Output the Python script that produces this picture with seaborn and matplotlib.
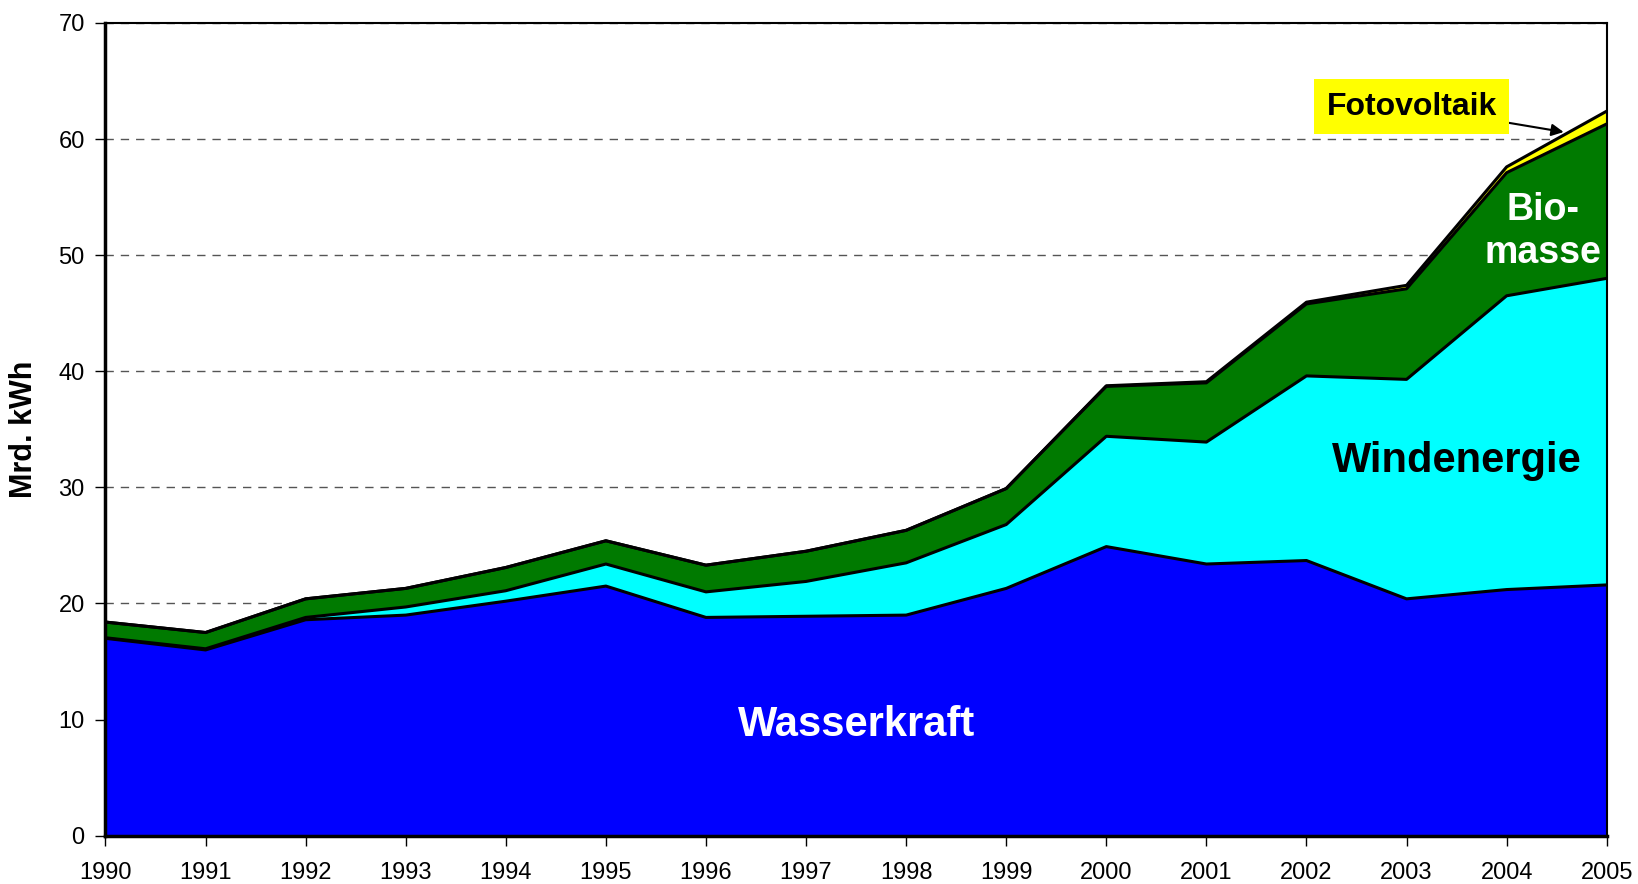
import numpy as np
import pandas as pd
import matplotlib
matplotlib.use("Agg")
import matplotlib.pyplot as plt
import seaborn as sns

# values (Mrd. kWh)
years = list(range(1990, 2006))
wasserkraft = [17.0, 16.0, 18.6, 19.0, 20.2, 21.5, 18.8, 18.9, 19.0, 21.3, 24.9, 23.4, 23.7, 20.4, 21.2, 21.6]
windenergie = [0.05, 0.1, 0.2, 0.7, 0.9, 1.9, 2.2, 3.0, 4.5, 5.5, 9.5, 10.5, 15.9, 18.9, 25.3, 26.4]
biomasse = [1.35, 1.4, 1.6, 1.6, 2.0, 2.0, 2.3, 2.6, 2.8, 3.1, 4.3, 5.1, 6.2, 7.8, 10.6, 13.3]
fotovoltaik = [0, 0, 0, 0, 0, 0, 0, 0, 0, 0, 0.05, 0.1, 0.15, 0.3, 0.5, 1.1]

sources = ["Wasserkraft", "Windenergie", "Biomasse", "Fotovoltaik"]
colors = ["#0000FF", "#00FFFF", "#007A00", "#FFFF00"]

df = pd.DataFrame({"year": years, "Wasserkraft": wasserkraft, "Windenergie": windenergie,
                   "Biomasse": biomasse, "Fotovoltaik": fotovoltaik})
cum = df[sources].cumsum(axis=1)
cum["year"] = df["year"]
long = cum.melt(id_vars="year", var_name="source", value_name="top")

sns.set_theme(style="white")
plt.rcParams["font.family"] = ["Liberation Sans", "DejaVu Sans"]

fig = plt.figure(figsize=(16.38, 8.84), dpi=100)
ax = fig.add_axes([0.0644, 0.0546, 0.9165, 0.9195])

ax.stackplot(df["year"], *[df[s] for s in sources], colors=colors, zorder=2, linewidth=0)
sns.lineplot(data=long, x="year", y="top", units="source", estimator=None,
             color="black", linewidth=2.2, ax=ax, zorder=3, legend=False)

ax.set_xlim(1990, 2005)
ax.set_ylim(0, 70)
ax.set_xticks(years)
ax.set_yticks(range(0, 71, 10))
ax.yaxis.grid(True, linestyle=(0, (6, 5)), color="#555555", linewidth=1.0, zorder=1)
ax.set_axisbelow(True)

for side in ["top", "right", "left", "bottom"]:
    ax.spines[side].set_color("black")
    ax.spines[side].set_linewidth(1.5)
ax.spines["left"].set_linewidth(2.5)
ax.spines["bottom"].set_linewidth(2.5)

ax.tick_params(axis="x", which="major", bottom=True, length=7, width=1, color="black",
               pad=12, labelsize=17, labelcolor="black")
ax.tick_params(axis="y", which="major", left=True, length=7, width=1, color="black",
               pad=8, labelsize=17, labelcolor="black")

ax.set_xlabel("")
ax.set_ylabel("Mrd. kWh", fontsize=22, fontweight="bold", color="black", labelpad=14)

ax.text(1997.5, 9.5, "Wasserkraft", color="white", fontsize=30, fontweight="bold",
        ha="center", va="center", zorder=5)
ax.text(2003.5, 32.3, "Windenergie", color="black", fontsize=30, fontweight="bold",
        ha="center", va="center", zorder=5)
ax.text(2004.36, 52.0, "Bio-\nmasse", color="white", fontsize=27, fontweight="bold",
        ha="center", va="center", linespacing=1.25, zorder=5)
ax.annotate("Fotovoltaik", xy=(2004.57, 60.6), xytext=(2003.05, 62.8),
            fontsize=23, fontweight="bold", color="black", ha="center", va="center",
            bbox=dict(boxstyle="square,pad=0.38", fc="#FFFF00", ec="none"),
            arrowprops=dict(arrowstyle="-|>", color="black", lw=1.5, mutation_scale=18,
                            shrinkA=0, shrinkB=0),
            zorder=6)

fig.savefig("out.png", dpi=100)
